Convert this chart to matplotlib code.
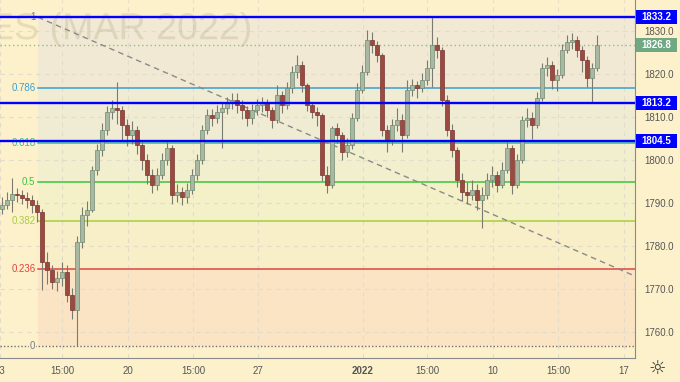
import matplotlib
matplotlib.use('Agg')
import matplotlib.pyplot as plt
from matplotlib.textpath import TextPath
from matplotlib.patches import PathPatch, Rectangle
from matplotlib.transforms import Affine2D, IdentityTransform, blended_transform_factory
from matplotlib.font_manager import FontProperties

# velas (una vela cada 5 px del original)
opens = [
1788.5, 1789.5, 1790.7, 1792.0, 1791.9, 1791.2, 1790.7, 1789.5, 1787.9, 1776.3,
1774.4, 1771.6, 1772.6, 1774.0, 1768.6, 1765.1, 1781.0, 1787.2, 1788.4, 1797.7,
1802.3, 1807.0, 1811.2, 1812.1, 1811.6, 1808.1, 1805.8, 1807.0, 1803.5, 1800.0,
1796.5, 1794.2, 1796.5, 1800.0, 1802.8, 1791.9, 1792.6, 1791.4, 1793.0, 1796.5,
1800.0, 1807.0, 1810.5, 1809.8, 1811.2, 1812.1, 1813.3, 1814.0, 1812.8, 1811.6,
1809.8, 1811.6, 1812.8, 1813.3, 1811.6, 1809.3, 1815.1, 1812.8, 1816.7, 1820.5,
1822.1, 1817.4, 1812.8, 1811.2, 1810.5, 1796.5, 1794.2, 1807.4, 1805.8, 1801.9,
1803.5, 1809.8, 1816.3, 1820.5, 1827.9, 1826.7, 1824.4, 1807.0, 1804.7, 1808.1,
1809.3, 1805.8, 1816.3, 1817.4, 1816.7, 1818.6, 1821.4, 1826.7, 1825.6, 1814.0,
1807.0, 1802.3, 1795.3, 1792.6, 1791.9, 1793.0, 1790.7, 1791.9, 1795.3, 1796.5,
1794.2, 1797.7, 1802.8, 1794.2, 1800.0, 1809.3, 1809.8, 1808.1, 1814.4, 1821.4,
1822.1, 1818.6, 1819.8, 1825.6, 1827.4, 1827.9, 1825.6, 1823.3, 1819.1, 1821.4]

closes = [
1789.5, 1790.7, 1792.0, 1791.9, 1791.2, 1790.7, 1789.5, 1787.9, 1776.3, 1774.4,
1771.6, 1772.6, 1774.0, 1768.6, 1765.1, 1781.0, 1787.2, 1788.4, 1797.7, 1802.3,
1807.0, 1811.2, 1812.1, 1811.6, 1808.1, 1805.8, 1807.0, 1803.5, 1800.0, 1796.5,
1794.2, 1796.5, 1800.0, 1802.8, 1791.9, 1792.6, 1791.4, 1793.0, 1796.5, 1800.0,
1807.0, 1810.5, 1809.8, 1811.2, 1812.1, 1813.3, 1814.0, 1812.8, 1811.6, 1809.8,
1811.6, 1812.8, 1813.3, 1811.6, 1809.3, 1815.1, 1812.8, 1816.7, 1820.5, 1822.1,
1817.4, 1812.8, 1811.2, 1810.5, 1796.5, 1794.2, 1807.4, 1805.8, 1801.9, 1803.5,
1809.8, 1816.3, 1820.5, 1827.9, 1826.7, 1824.4, 1807.0, 1804.7, 1808.1, 1809.3,
1805.8, 1816.3, 1817.4, 1816.7, 1818.6, 1821.4, 1826.7, 1825.6, 1814.0, 1807.0,
1802.3, 1795.3, 1792.6, 1791.9, 1793.0, 1790.7, 1791.9, 1795.3, 1796.5, 1794.2,
1797.7, 1802.8, 1794.2, 1800.0, 1809.3, 1809.8, 1808.1, 1814.4, 1821.4, 1822.1,
1818.6, 1819.8, 1825.6, 1827.4, 1827.9, 1825.6, 1823.3, 1819.1, 1821.4, 1826.8]

highs = [
1791.5, 1792.5, 1795.8, 1793.5, 1793.0, 1792.6, 1791.8, 1790.8, 1788.6, 1778.5,
1775.5, 1774.2, 1776.3, 1775.6, 1770.2, 1782.4, 1789.0, 1790.5, 1798.6, 1803.8,
1808.5, 1812.6, 1814.0, 1818.1, 1812.5, 1809.6, 1809.0, 1808.0, 1804.3, 1801.5,
1798.0, 1798.2, 1801.6, 1804.6, 1803.5, 1794.5, 1793.8, 1794.6, 1797.8, 1801.4,
1808.2, 1811.8, 1811.9, 1812.8, 1813.6, 1814.7, 1815.6, 1815.6, 1814.0, 1812.5,
1813.0, 1814.3, 1814.6, 1814.2, 1812.4, 1817.4, 1816.0, 1818.2, 1821.8, 1824.4,
1823.0, 1818.0, 1813.6, 1812.3, 1811.0, 1798.5, 1807.9, 1808.6, 1806.5, 1805.2,
1810.9, 1817.9, 1822.0, 1830.2, 1829.8, 1827.6, 1825.0, 1808.2, 1809.6, 1812.0,
1810.6, 1818.6, 1818.9, 1818.4, 1820.3, 1823.2, 1833.2, 1828.5, 1826.2, 1815.0,
1808.3, 1803.0, 1797.0, 1794.8, 1795.4, 1794.5, 1793.8, 1797.0, 1798.6, 1797.4,
1799.5, 1804.2, 1803.4, 1801.5, 1810.2, 1812.0, 1811.2, 1815.8, 1822.6, 1824.0,
1823.0, 1821.2, 1827.0, 1829.0, 1829.5, 1828.8, 1826.6, 1824.2, 1822.6, 1829.0]

lows = [
1787.5, 1788.6, 1788.0, 1790.2, 1789.8, 1788.9, 1787.6, 1785.5, 1769.8, 1771.2,
1769.9, 1769.5, 1770.8, 1767.0, 1763.0, 1756.7, 1779.5, 1784.7, 1787.8, 1796.5,
1800.9, 1805.8, 1809.5, 1808.4, 1804.6, 1803.2, 1803.8, 1801.4, 1797.6, 1794.5,
1792.3, 1793.0, 1795.5, 1798.8, 1789.7, 1790.2, 1789.5, 1790.0, 1792.2, 1795.4,
1799.0, 1806.0, 1807.9, 1808.5, 1802.8, 1810.8, 1811.9, 1810.9, 1809.5, 1807.8,
1808.4, 1810.4, 1811.2, 1809.9, 1807.4, 1808.6, 1811.0, 1811.8, 1815.6, 1819.0,
1815.9, 1811.5, 1809.7, 1808.0, 1795.0, 1792.3, 1793.6, 1804.0, 1800.0, 1800.8,
1802.6, 1809.0, 1815.5, 1819.8, 1824.9, 1822.8, 1805.5, 1801.9, 1803.6, 1806.8,
1801.9, 1805.2, 1814.8, 1814.4, 1815.8, 1817.5, 1817.0, 1823.8, 1812.5, 1805.6,
1800.6, 1793.8, 1790.5, 1789.8, 1790.6, 1788.4, 1784.2, 1791.0, 1793.8, 1792.6,
1793.5, 1796.9, 1792.0, 1793.6, 1799.2, 1807.6, 1804.9, 1807.5, 1813.8, 1819.6,
1816.6, 1816.0, 1819.0, 1824.8, 1825.7, 1823.9, 1820.5, 1816.9, 1813.5, 1820.8]

# eje x
etiquetas_x = ['13', '15:00', '20', '15:00', '27', '2022', '15:00', '10', '15:00', '17']
pos_x = [-0.4, 12.0, 25.2, 38.2, 51.2, 72.2, 85.0, 98.2, 111.2, 124.4]

# fibonacci
fib_alto = 1833.2
fib_bajo = 1756.7
fib_inicio = 7.2
niveles = [1, 0.786, 0.618, 0.5, 0.382, 0.236, 0]
nombres = ['1', '0.786', '0.618', '0.5', '0.382', '0.236', '0']
colores_fib = ['#787b86', '#3a9fd3', '#2fbf9f', '#3cc43c', '#a6d13a', '#e0453f', '#787b86']
rellenos = ['#f1e9d3', '#f0ecd4', '#f1efcd', '#f4f0c8', '#f8eec7', '#fbe4c4']

# lineas horizontales azules y precio actual
lineas_azules = [1833.2, 1813.2, 1804.5]
ultimo = 1826.8

# linea de tendencia
tend_x = [7.2, 126.6]
tend_y = [1833.2, 1773.0]

fondo = '#fdf1cc'
fig = plt.figure(figsize=(6.8, 3.82), dpi=100, facecolor=fondo)
ax = fig.add_axes([0, 24 / 382, 635 / 680, 358 / 382])
ax.set_facecolor(fondo)
ax.set_xlim(-0.4, 126.6)
ax.set_ylim(1753.95, 1837.21)

# bandas de fibonacci
precios = [fib_bajo + n * (fib_alto - fib_bajo) for n in niveles]
for k in range(len(niveles) - 1):
    ax.fill_between([fib_inicio, 126.6], precios[k + 1], precios[k], color=rellenos[k], lw=0, zorder=0.2)
for k in range(len(niveles)):
    if nombres[k] == '0':
        continue
    ax.plot([fib_inicio, 126.6], [precios[k], precios[k]], color=colores_fib[k], lw=1.1, zorder=1.5)
    ax.text(fib_inicio - 0.5, precios[k], nombres[k], color=colores_fib[k], fontsize=7,
            family='Liberation Sans', ha='right', va='center', zorder=1.6)
ax.axhline(fib_bajo, color='#6f6f6f', lw=1, ls=(0, (1, 1.5)), zorder=1.5)
ax.text(fib_inicio - 0.5, fib_bajo, '0', color='#787b86', fontsize=7, family='Liberation Sans',
        ha='right', va='center', zorder=1.6, bbox=dict(fc=fondo, ec='none', pad=0.5))

# rejilla
ax.set_axisbelow(True)
ax.grid(True, color='#e3dccb', lw=0.8, ls=(0, (4, 4)))

# marca de agua
tp = TextPath((0, 0), 'ES (MAR 2022)', size=10, prop=FontProperties(family='Liberation Sans'))
ext = tp.get_extents()
tr = Affine2D().translate(-ext.x0, -ext.y0).scale(258 / ext.width, 35 / ext.height).translate(-8, 382 - 47)
ax.add_patch(PathPatch(tr.transform_path(tp), transform=IdentityTransform(),
                       fc='#8c7d5a', ec='none', alpha=0.18, zorder=1))

# linea de tendencia
ax.plot(tend_x, tend_y, color='#8a8a8a', lw=1, ls=(0, (4, 3)), zorder=1.8)

# ultimo precio punteado
ax.axhline(ultimo, color='#8fbf8a', lw=1, ls=(0, (1, 2)), zorder=1.7)

# velas
x = list(range(len(closes)))
ax.vlines(x, lows, highs, color='#7a7a72', lw=0.8, zorder=3)
sube = [c >= o for o, c in zip(opens, closes)]
alturas = [max(abs(c - o), 0.25) for o, c in zip(opens, closes)]
bases = [min(o, c) for o, c in zip(opens, closes)]
colores = ['#a8b8a2' if s else '#9a4a40' for s in sube]
bordes = ['#6f8a70' if s else '#7a3530' for s in sube]
ax.bar(x, alturas, bottom=bases, width=0.7, color=colores, edgecolor=bordes, lw=0.5, zorder=3.2)

# lineas azules
trans = blended_transform_factory(ax.transAxes, ax.transData)
for p in lineas_azules:
    ax.axhline(p, color='#0000ff', lw=1.7, zorder=4)
    ax.add_patch(Rectangle((1.0016, p - 1.6), 0.064, 3.2, transform=trans, fc='#0000ff', ec='none',
                           clip_on=False, zorder=5))
    ax.text(1.0336, p, '%.1f' % p, transform=trans, color='white', fontsize=7, fontweight='bold',
            family='Liberation Sans', ha='center', va='center', zorder=6, clip_on=False)
ax.add_patch(Rectangle((1.0016, ultimo - 1.6), 0.064, 3.2, transform=trans, fc='#6fa883', ec='none',
                       clip_on=False, zorder=5))
ax.text(1.0336, ultimo, '%.1f' % ultimo, transform=trans, color='white', fontsize=7, fontweight='bold',
        family='Liberation Sans', ha='center', va='center', zorder=6, clip_on=False)

# ejes
ax.set_yticks([1760, 1770, 1780, 1790, 1800, 1810, 1820, 1830])
ax.set_yticklabels(['1760.0', '1770.0', '1780.0', '1790.0', '1800.0', '1810.0', '1820.0', '1830.0'],
                   family='Liberation Sans', fontsize=7, color='#555555')
ax.yaxis.tick_right()
ax.tick_params(axis='y', length=0, pad=7)
ax.set_xticks(pos_x)
ax.set_xticklabels(etiquetas_x, family='Liberation Sans', fontsize=7, color='#555555')
ax.get_xticklabels()[5].set_fontweight('bold')
ax.tick_params(axis='x', length=0, pad=6)
for lado in ['top', 'left']:
    ax.spines[lado].set_visible(False)
ax.spines['right'].set_color('#8a8a8a')
ax.spines['bottom'].set_color('#8a8a8a')

fig.text(657 / 680, 1 - 368 / 382, '\u263c', fontsize=14, color='#333333', ha='center', va='center')

plt.savefig('out.png', dpi=100, facecolor=fondo)
